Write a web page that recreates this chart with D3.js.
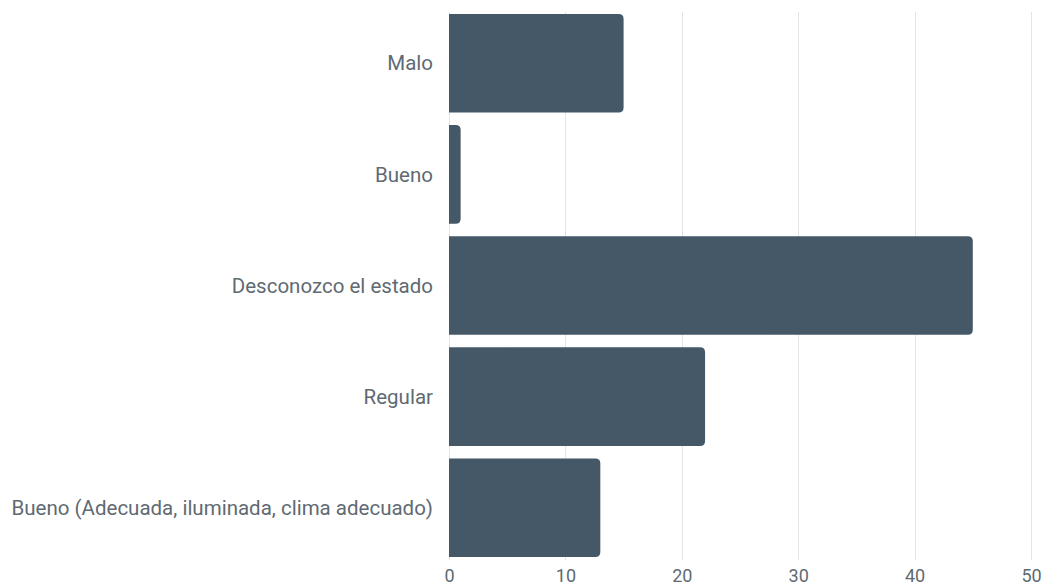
<!DOCTYPE html>
<html>
<head>
<meta charset="utf-8">
<script src="https://cdn.jsdelivr.net/npm/d3@7"></script>
<style>
  body { margin: 0; background: #fff; }
  text { font-family: "Roboto", "Liberation Sans", sans-serif; }
</style>
</head>
<body>
<svg id="chart" width="1046" height="586"></svg>
<script>
// categories and values
var categories = ["Malo", "Bueno", "Desconozco el estado", "Regular", "Bueno (Adecuada, iluminada, clima adecuado)"];
var values = [15, 1, 45, 22, 13];
var xTicks = [0, 10, 20, 30, 40, 50];

var svg = d3.select("#chart");
var margin = {top: 14, left: 449};

var g = svg.append("g").attr("transform", "translate(" + margin.left + "," + margin.top + ")");

var x = d3.scaleLinear().domain([0, 50]).range([0, 582]);
var y = d3.scaleBand().domain(categories).range([0, 543]).paddingInner(0.113).paddingOuter(0);

// grid
g.selectAll("line.grid")
  .data(xTicks)
  .enter().append("line")
  .attr("class", "grid")
  .attr("x1", function(d) { return Math.round(x(d)) + 0.5; })
  .attr("x2", function(d) { return Math.round(x(d)) + 0.5; })
  .attr("y1", -2)
  .attr("y2", 546)
  .attr("stroke", "#e4e4e4")
  .attr("stroke-width", 1);

// bars, rounded on the right end only
var r = 5;
g.selectAll("path.bar")
  .data(values)
  .enter().append("path")
  .attr("class", "bar")
  .attr("fill", "#455868")
  .attr("d", function(d, i) {
    var x0 = x(0), x1 = x(d), y0 = y(categories[i]), h = y.bandwidth();
    var rr = Math.min(r, (x1 - x0));
    return "M" + x0 + "," + y0 +
      "H" + (x1 - rr) +
      "Q" + x1 + "," + y0 + " " + x1 + "," + (y0 + rr) +
      "V" + (y0 + h - rr) +
      "Q" + x1 + "," + (y0 + h) + " " + (x1 - rr) + "," + (y0 + h) +
      "H" + x0 + "Z";
  });

// category labels
g.selectAll("text.cat")
  .data(categories)
  .enter().append("text")
  .attr("class", "cat")
  .attr("x", -16)
  .attr("y", function(d) { return y(d) + y.bandwidth() / 2; })
  .attr("dy", "0.35em")
  .attr("text-anchor", "end")
  .attr("font-size", 20.5)
  .attr("fill", "#606a72")
  .text(function(d) { return d; });

// x axis labels
var xAxis = d3.axisBottom(x).tickValues(xTicks).tickSize(0).tickPadding(0);
var ax = g.append("g").attr("transform", "translate(0," + 555 + ")").call(xAxis);
ax.select(".domain").remove();
ax.selectAll("text")
  .attr("font-size", 18)
  .attr("font-family", "Roboto, sans-serif")
  .attr("fill", "#606a72")
  .attr("dy", "0.71em");
</script>
</body>
</html>
